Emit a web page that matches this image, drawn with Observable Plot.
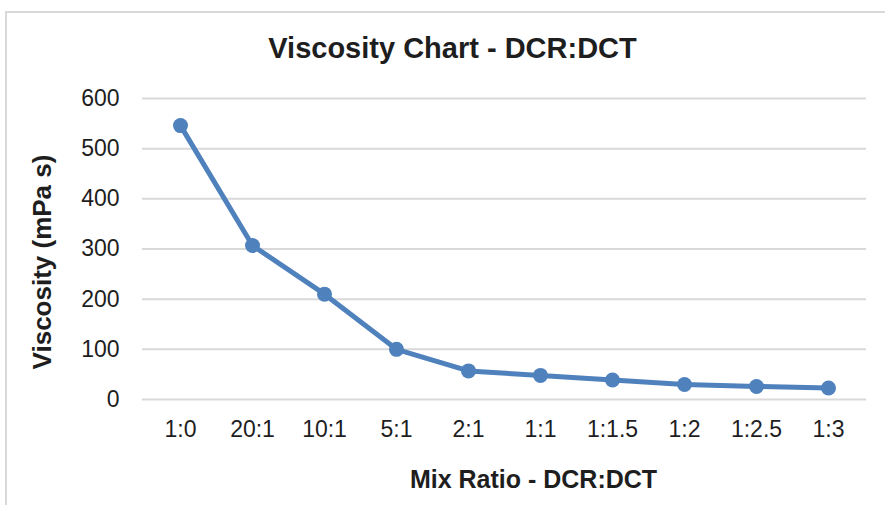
<!DOCTYPE html>
<html>
<head>
<meta charset="utf-8">
<script src="https://cdn.jsdelivr.net/npm/d3@7"></script>
<script src="https://cdn.jsdelivr.net/npm/@observablehq/plot@0.6"></script>
<style>
  html, body { margin: 0; padding: 0; background: #fff; overflow: hidden; width: 885px; height: 505px; }
  #wrap { position: relative; width: 885px; height: 505px; overflow: hidden; }
  #border { position: absolute; left: 5px; top: 11px; width: 900px; height: 600px; border: 2px solid #d9d9d9; box-sizing: border-box; }
  #chart { position: absolute; left: 0; top: 0; }
</style>
</head>
<body>
<div id="wrap"><div id="border"></div><div id="chart"></div></div>
<script>
const title = "Viscosity Chart - DCR:DCT";
const xTitle = "Mix Ratio - DCR:DCT";
const yTitle = "Viscosity (mPa s)";
const ratios = ["1:0", "20:1", "10:1", "5:1", "2:1", "1:1", "1:1.5", "1:2", "1:2.5", "1:3"];
const viscosity = [546, 307, 210, 100, 57, 48, 39, 30, 26, 23];
const yTicks = [0, 100, 200, 300, 400, 500, 600];

const data = ratios.map((r, i) => ({ratio: r, v: viscosity[i]}));
const blue = "#4f81bd";
const ink = "#1e1e1e";

const chart = Plot.plot({
  width: 885,
  height: 505,
  marginLeft: 142,
  marginRight: 19,
  marginTop: 98,
  marginBottom: 106,
  style: {fontFamily: "'Liberation Sans', Arial, sans-serif", color: ink, background: "transparent", overflow: "visible"},
  x: {type: "point", domain: ratios, padding: 0.5},
  y: {domain: [0, 600]},
  marks: [
    Plot.gridY(yTicks, {stroke: "#d9d9d9", strokeOpacity: 1, strokeWidth: 2}),
    Plot.axisY(yTicks, {tickSize: 0, tickPadding: 23, fontSize: 23, label: null, fill: ink}),
    Plot.axisX({tickSize: 0, tickPadding: 21, fontSize: 23, label: null, fill: ink}),
    Plot.line(data, {x: "ratio", y: "v", stroke: blue, strokeWidth: 5, strokeLinejoin: "round"}),
    Plot.dot(data, {x: "ratio", y: "v", r: 7.5, fill: blue, stroke: "none"}),
    Plot.text([title], {frameAnchor: "top", textAnchor: "middle", lineAnchor: "middle", dx: -52, dy: -50, fontSize: 29, fontWeight: "bold", fill: ink}),
    Plot.text([xTitle], {frameAnchor: "bottom", textAnchor: "middle", lineAnchor: "middle", dx: 29, dy: 80, fontSize: 25, fontWeight: "bold", fill: ink}),
    Plot.text([yTitle], {frameAnchor: "left", textAnchor: "middle", lineAnchor: "middle", dx: -100, dy: 13, rotate: -90, fontSize: 26, fontWeight: "bold", fill: ink})
  ]
});
document.getElementById("chart").appendChild(chart);
</script>
</body>
</html>
